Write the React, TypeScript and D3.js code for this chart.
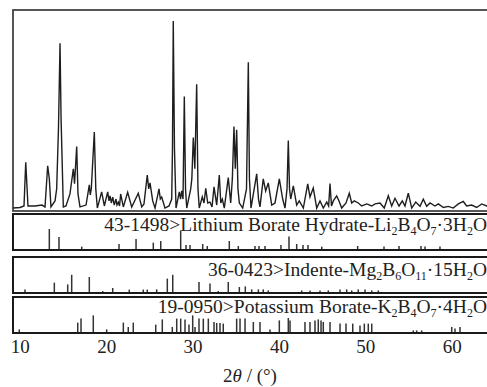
import * as React from 'react';
import * as d3 from 'd3';

// 2θ tick values on the bottom axis
const xTicks = [10, 20, 30, 40, 50, 60];

// measured pattern: [2θ (deg), relative intensity %]
const pattern: [number, number][] = [
  [9.15, 0.5], [9.97, 0.8], [10.43, 1.6], [10.63, 24.9], [10.89, 1.6], [11.7, 1.6], [12.51, 2.1],
  [12.86, 1.1], [13.17, 23.0], [13.36, 16.0], [13.55, 1.1], [14.02, 4.3], [14.21, 10.7], [14.42, 42.8],
  [14.6, 88.2], [14.72, 48.1], [14.98, 1.1], [15.29, 1.6], [15.75, 8.0], [16.14, 21.4], [16.28, 13.4],
  [16.53, 33.2], [16.68, 8.0], [16.91, 1.1], [17.61, 2.1], [17.99, 12.8], [18.1, 7.5], [18.22, 10.7],
  [18.57, 41.0], [18.74, 10.7], [18.92, 0.5], [19.42, 9.1], [19.73, 1.6], [20.12, 9.1], [20.27, 4.3],
  [20.39, 7.0], [20.54, 3.2], [20.7, 6.3], [20.88, 2.1], [21.08, 5.3], [21.19, 2.1], [21.35, 3.6],
  [21.49, 1.6], [21.62, 8.0], [21.93, 1.1], [22.43, 8.9], [22.9, 1.1], [23.66, 8.4], [24.06, 1.1],
  [24.32, 2.7], [24.7, 18.0], [24.87, 10.7], [25.02, 13.9], [25.33, 4.3], [25.6, 0.5], [26.06, 10.7],
  [26.21, 5.3], [26.37, 6.3], [26.75, 0.5], [27.22, 1.6], [27.53, 5.3], [27.62, 32.1], [27.71, 100],
  [27.85, 32.1], [28.03, 0.5], [28.41, 9.1], [28.55, 5.3], [28.69, 9.6], [28.84, 5.3], [28.99, 59.9],
  [29.13, 10.7], [29.27, 0.5], [29.73, 10.7], [29.86, 16.0], [30.03, 38.0], [30.21, 21.4], [30.42, 66.3],
  [30.57, 10.7], [30.72, 0.5], [31.07, 6.4], [31.27, 3.2], [31.47, 11.0], [31.7, 3.2], [31.96, 3.7],
  [32.2, 1.1], [32.43, 11.8], [32.74, 2.1], [33.04, 18.0], [33.21, 3.2], [33.39, 5.3], [33.62, 0.5],
  [34.08, 16.7], [34.36, 3.2], [34.55, 16.0], [34.74, 43.9], [34.89, 21.4], [35.05, 42.2], [35.2, 10.7],
  [35.36, 3.2], [35.75, 0.5], [36.19, 10.7], [36.4, 78.1], [36.53, 16.0], [36.71, 0.5], [37.37, 18.7],
  [37.58, 5.3], [37.75, 1.1], [38.13, 16.0], [38.41, 9.6], [38.71, 13.9], [39.11, 2.1], [39.49, 3.2],
  [39.99, 16.0], [40.38, 5.3], [40.65, 0.5], [40.88, 10.7], [41.03, 36.4], [41.17, 10.7], [41.31, 5.3],
  [41.61, 12.3], [42.0, 2.1], [42.3, 4.3], [42.77, 0.5], [43.28, 13.4], [43.54, 6.4], [43.92, 11.2],
  [44.32, 0.5], [44.7, 4.3], [45.08, 0.5], [45.48, 3.7], [45.7, 1.6], [45.86, 13.5], [46.03, 1.6],
  [46.24, 4.3], [46.63, 7.0], [46.9, 4.3], [47.21, 0.5], [47.71, 3.2], [48.09, 8.4], [48.37, 3.2],
  [48.67, 4.3], [49.13, 3.2], [49.53, 1.6], [50.11, 2.7], [50.69, 1.6], [51.07, 2.7], [51.65, 3.2],
  [52.14, 0.5], [52.61, 7.0], [53.0, 1.6], [53.38, 5.7], [53.85, 1.6], [54.23, 4.3], [54.54, 1.6],
  [54.92, 8.4], [55.32, 0.5], [55.78, 3.7], [56.28, 1.4], [56.66, 5.2], [57.05, 1.4], [57.44, 3.2],
  [58.01, 1.6], [58.4, 2.7], [58.98, 0.8], [59.55, 1.4], [60.13, 0.5], [60.71, 2.7], [61.29, 4.0],
  [61.68, 1.6], [62.26, 2.1], [62.84, 0.8], [63.42, 2.7], [64.0, 1.6], [64.38, 2.1],
];

// reference sticks: [2θ, I/I0]
const sticksLi: [number, number][] = [
  [13.36, 100], [14.48, 60], [17.11, 12], [21.43, 25], [23.4, 50], [25.4, 32], [26.26, 40],
  [28.57, 93], [29.19, 20], [29.65, 20], [31.12, 25], [31.65, 15], [34.2, 40], [35.24, 15],
  [37.17, 15], [37.64, 15], [38.33, 15], [40.18, 20], [41.11, 63], [42.0, 25], [42.73, 20],
  [43.31, 20], [44.9, 12], [49.06, 15], [52.11, 12], [53.85, 15], [56.39, 15], [56.86, 12], [58.59, 12],
];
const sticksMg: [number, number][] = [
  [10.54, 12], [13.94, 47], [15.49, 38], [15.95, 86], [17.99, 75], [19.54, 5], [20.7, 20],
  [22.62, 12], [24.24, 12], [24.7, 12], [25.79, 13], [27.02, 67], [27.65, 86], [30.69, 50],
  [31.96, 42], [32.92, 5], [34.08, 50], [35.36, 25], [36.05, 28], [36.79, 13], [37.56, 13],
  [38.13, 13], [38.71, 8], [42.58, 8], [43.54, 8], [44.7, 8], [45.66, 8], [47.02, 13], [47.79, 13],
  [48.37, 8], [49.13, 13], [49.91, 13], [50.69, 8], [51.45, 8],
];
const sticksK: [number, number][] = [
  [9.88, 13], [16.65, 47], [17.03, 67], [18.45, 83], [20.0, 13], [21.93, 47], [22.5, 25], [23.08, 47],
  [25.68, 37], [26.44, 63], [27.6, 25], [28.11, 67], [28.57, 67], [29.07, 63], [29.53, 37], [29.96, 83],
  [30.23, 25], [30.69, 67], [31.19, 67], [31.77, 67], [32.43, 50], [32.74, 45], [33.12, 45], [33.5, 42],
  [35.05, 67], [35.44, 67], [36.02, 67], [36.98, 50], [37.75, 50], [38.91, 13], [39.99, 58], [41.03, 70],
  [41.23, 58], [42.96, 50], [43.54, 50], [44.12, 58], [44.5, 63], [44.82, 58], [45.08, 50], [45.86, 50],
  [47.02, 42], [47.71, 42], [48.49, 42], [49.33, 33], [49.83, 42], [50.29, 42], [50.69, 42],
  [55.5, 8], [55.89, 8], [56.47, 8], [59.95, 25], [60.33, 17], [60.91, 25],
];

const refCodes = ['43-1498', '36-0423', '19-0950'];
const refNames = ['Lithium Borate Hydrate', 'Indente', 'Potassium Borate'];
const refFormulas = ['Li_2B_4O_7·3H_2O', 'Mg_2B_6O_11·15H_2O', 'K_2B_4O_7·4H_2O'];
const refSticks = [sticksLi, sticksMg, sticksK];

const FONT = '"Liberation Serif", "DejaVu Serif", serif';
const LEFT = 13;
const RIGHT = 496;

const x = d3.scaleLinear().domain([10, 60]).range([20.3, 452.15]);
const yMain = d3.scaleLinear().domain([0, 100]).range([209, 21]);
const stickLen = d3.scaleLinear().domain([0, 100]).range([0, 20]);

const panels = [
  { top: 214, bottom: 250, textY: 231 },
  { top: 257, bottom: 293, textY: 276 },
  { top: 297, bottom: 333, textY: 313 },
];

function formula(f: string) {
  const parts = f.split(/(_\d+)/).filter(Boolean);
  let prevSub = false;
  return parts.map((p, i) => {
    if (p.startsWith('_')) {
      const el = <tspan key={i} style={{ fontSize: 12 }} dy={prevSub ? 0 : 4}>{p.slice(1)}</tspan>;
      prevSub = true;
      return el;
    }
    const el = <tspan key={i} dy={prevSub ? -4 : 0}>{p}</tspan>;
    prevSub = false;
    return el;
  });
}

const textStyle = (size: number): React.CSSProperties => ({ fontFamily: FONT, fontSize: size });

export default function App() {
  const line = d3.line<[number, number]>()
    .x(d => x(d[0]))
    .y(d => yMain(d[1]));

  return (
    <svg width={487} height={387} style={{ position: 'absolute', left: 0, top: 0, background: '#fff' }}>
      {/* main pattern frame */}
      <rect x={LEFT} y={10} width={RIGHT - LEFT} height={201} fill="none" stroke="#444" strokeWidth={1.8} />
      <path d={line(pattern) || ''} fill="none" stroke="#1e1e1e" strokeWidth={1.4} strokeLinejoin="miter" />

      {panels.map((p, i) => (
        <g key={i}>
          <rect x={LEFT} y={p.top} width={RIGHT - LEFT} height={p.bottom - p.top}
            fill="none" stroke="#1a1a1a" strokeWidth={2} />
          {refSticks[i].map((s, j) => (
            <line key={j} x1={x(s[0])} x2={x(s[0])} y1={p.bottom - 1} y2={p.bottom - 1 - stickLen(s[1])}
              stroke="#333" strokeWidth={1.5} />
          ))}
          <text x={487} y={p.textY} textAnchor="end" fill="#222" style={textStyle(19.5)}>
            <tspan>{refCodes[i]}&gt;{refNames[i]}-</tspan>
            {formula(refFormulas[i])}
          </text>
        </g>
      ))}

      {xTicks.map(t => (
        <text key={t} x={x(t)} y={353} textAnchor="middle" fill="#222" style={textStyle(19)}>{t}</text>
      ))}

      <text x={250} y={382} textAnchor="middle" fill="#222" style={textStyle(19)}>
        2<tspan fontStyle="italic">θ</tspan> / (°)
      </text>
    </svg>
  );
}
